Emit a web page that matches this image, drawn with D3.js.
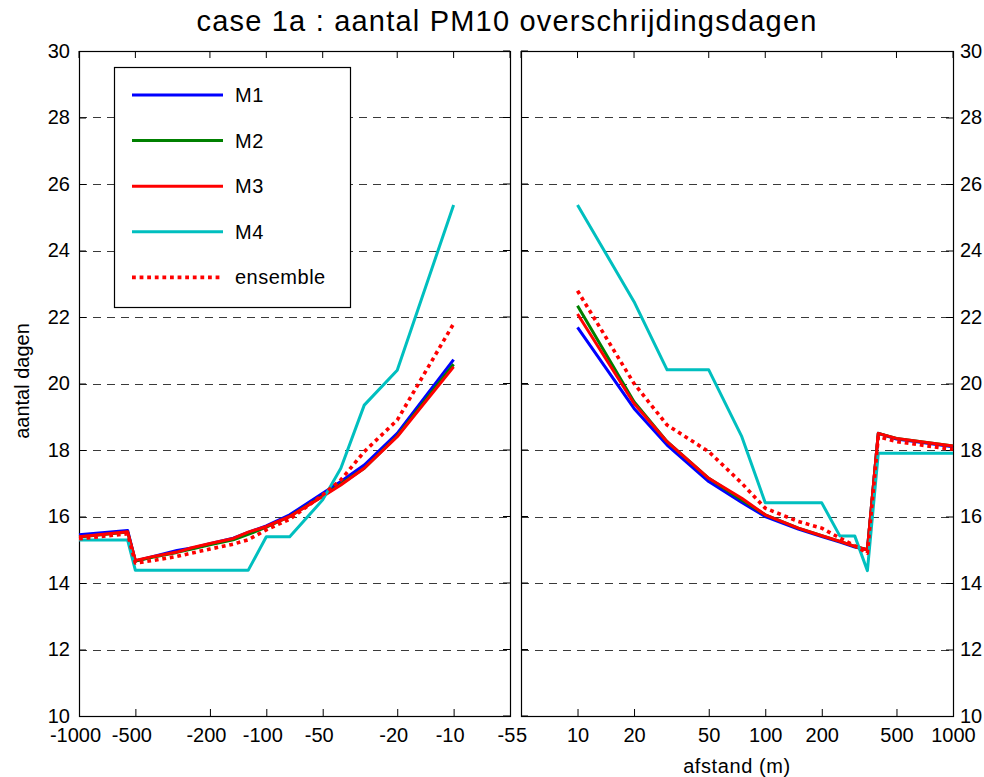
<!DOCTYPE html>
<html>
<head>
<meta charset="utf-8">
<script src="https://cdn.jsdelivr.net/npm/d3@7/dist/d3.min.js"></script>
<style>
  html, body { margin: 0; padding: 0; background: #fff; }
  svg { display: block; font-family: "Liberation Sans", Arial, sans-serif; }
</style>
</head>
<body>
<svg id="chart" width="984" height="777"></svg>
<script>
// Distances (m): negative = left of the road, positive = right of the road
const distLeft  = [-1000, -550, -500, -400, -300, -250, -200, -150, -125, -100, -75, -50, -40, -30, -20, -10];
const distRight = [10, 20, 30, 50, 75, 100, 150, 200, 250, 300, 350, 400, 500, 1000];

// Number of PM10 exceedance days per model, left side
const m1Left  = [15.45, 15.58, 14.66, 14.80, 14.98, 15.05, 15.18, 15.35, 15.52, 15.72, 16.05, 16.70, 17.05, 17.55, 18.50, 20.72];
const m2Left  = [15.38, 15.53, 14.66, 14.78, 14.92, 15.02, 15.15, 15.30, 15.46, 15.68, 16.00, 16.62, 16.98, 17.45, 18.42, 20.58];
const m3Left  = [15.39, 15.54, 14.68, 14.80, 14.93, 15.06, 15.19, 15.34, 15.53, 15.70, 16.00, 16.60, 16.95, 17.45, 18.40, 20.50];
const m4Left  = [15.29, 15.29, 14.38, 14.38, 14.38, 14.38, 14.38, 14.38, 14.38, 15.39, 15.39, 16.50, 17.45, 19.35, 20.40, 25.37];
const ensLeft = [15.33, 15.48, 14.60, 14.68, 14.80, 14.90, 15.02, 15.17, 15.30, 15.60, 15.92, 16.65, 17.10, 17.95, 18.90, 21.80];

// Right side
const m1Right  = [21.69, 19.25, 18.15, 17.05, 16.42, 16.00, 15.62, 15.40, 15.23, 15.08, 15.00, 18.50, 18.33, 18.10];
const m2Right  = [22.34, 19.45, 18.25, 17.15, 16.50, 16.05, 15.65, 15.42, 15.25, 15.10, 15.00, 18.50, 18.35, 18.12];
const m3Right  = [22.09, 19.40, 18.25, 17.15, 16.55, 16.05, 15.65, 15.42, 15.25, 15.10, 15.00, 18.50, 18.35, 18.12];
const m4Right  = [25.37, 22.46, 20.41, 20.41, 18.40, 16.41, 16.41, 16.41, 15.41, 15.41, 14.37, 17.90, 17.90, 17.90];
const ensRight = [22.79, 20.00, 18.75, 17.95, 17.00, 16.25, 15.85, 15.65, 15.35, 15.12, 14.90, 18.40, 18.25, 18.02];

const seriesNames = ["M1", "M2", "M3", "M4", "ensemble"];
const seriesColors = ["#0000ff", "#008000", "#ff0000", "#00bfbf", "#ff0000"];

const ticksLeft  = [-1000, -500, -200, -100, -50, -20, -10, -5];
const ticksRight = [5, 10, 20, 50, 100, 200, 500, 1000];
const ticksY     = [10, 12, 14, 16, 18, 20, 22, 24, 26, 28, 30];

const titleText = "case 1a : aantal PM10 overschrijdingsdagen";
const yLabel = "aantal dagen";
const xLabel = "afstand (m)";

const svg = d3.select("#chart");
const plotTop = 51, plotBottom = 716;
const y = d3.scaleLinear().domain([10, 30]).range([plotBottom, plotTop]);

const xL = d3.scaleLog().domain([-1000, -5]).range([79, 510]);
const xR = d3.scaleLog().domain([5, 1000]).range([521, 953]);

const fmt = d => String(d);
const tickLen = 7;

function drawPanel(x, ticks, side) {
  const [x0, x1] = x.range();
  const g = svg.append("g");

  // dashed grid
  g.append("g").selectAll("line").data(ticksY.filter(v => v > 10 && v < 30)).join("line")
    .attr("x1", x0).attr("x2", x1)
    .attr("y1", d => Math.round(y(d)) + 0.5).attr("y2", d => Math.round(y(d)) + 0.5)
    .attr("stroke", "#3a3a3a").attr("stroke-width", 1).attr("stroke-dasharray", "8,6");

  // bottom axis; negative labels sit slightly left so the digits centre on the tick
  const ax = g.append("g").attr("transform", `translate(0,${plotBottom})`)
    .call(d3.axisBottom(x).tickValues(ticks).tickFormat(fmt).tickSizeInner(-tickLen).tickSizeOuter(0).tickPadding(12));
  ax.select(".domain").remove();
  ax.selectAll("text").attr("font-size", 20).attr("fill", "#000")
    .attr("font-family", "Liberation Sans, Arial, sans-serif")
    .attr("dx", d => d < 0 ? -4 : 0);
  ax.selectAll("line").attr("stroke", "#000");

  // mirrored ticks on top edge
  g.append("g").selectAll("line").data(ticks).join("line")
    .attr("x1", d => x(d)).attr("x2", d => x(d))
    .attr("y1", plotTop).attr("y2", plotTop + tickLen).attr("stroke", "#000");

  // y axis with labels on the outer side, mirrored ticks inside on the other edge
  const yAxis = side === "left"
    ? d3.axisLeft(y).tickValues(ticksY).tickFormat(fmt).tickSizeInner(-tickLen).tickSizeOuter(0).tickPadding(9)
    : d3.axisRight(y).tickValues(ticksY).tickFormat(fmt).tickSizeInner(-tickLen).tickSizeOuter(0).tickPadding(7);
  const ay = g.append("g").attr("transform", `translate(${side === "left" ? x0 : x1},0)`).call(yAxis);
  ay.select(".domain").remove();
  ay.selectAll("text").attr("font-size", 20).attr("fill", "#000").attr("font-family", "Liberation Sans, Arial, sans-serif");
  ay.selectAll("line").attr("stroke", "#000");

  const otherX = side === "left" ? x1 : x0;
  const dir = side === "left" ? -1 : 1;
  g.append("g").selectAll("line").data(ticksY).join("line")
    .attr("x1", otherX).attr("x2", otherX + dir * tickLen)
    .attr("y1", d => y(d)).attr("y2", d => y(d)).attr("stroke", "#000");

  // frame
  g.append("rect").attr("x", x0 + 0.5).attr("y", plotTop + 0.5)
    .attr("width", x1 - x0).attr("height", plotBottom - plotTop)
    .attr("fill", "none").attr("stroke", "#000").attr("stroke-width", 1.2);
  return g;
}

drawPanel(xL, ticksLeft, "left");
drawPanel(xR, ticksRight, "right");

function drawLines(x, dist, seriesList) {
  const line = d3.line().x((d, i) => x(dist[i])).y(d => y(d));
  seriesList.forEach((vals, k) => {
    const p = svg.append("path").datum(vals)
      .attr("d", line).attr("fill", "none")
      .attr("stroke", seriesColors[k])
      .attr("stroke-width", k === 4 ? 3.6 : 3)
      .attr("stroke-linejoin", "round");
    if (k === 4) p.attr("stroke-dasharray", "3.8,3.8");
  });
}

drawLines(xL, distLeft, [m1Left, m2Left, m3Left, m4Left, ensLeft]);
drawLines(xR, distRight, [m1Right, m2Right, m3Right, m4Right, ensRight]);

// legend
const lg = svg.append("g");
lg.append("rect").attr("x", 114.5).attr("y", 67.5).attr("width", 236).attr("height", 240)
  .attr("fill", "#fff").attr("stroke", "#000").attr("stroke-width", 1.2);
seriesNames.forEach((name, k) => {
  const yy = 95 + k * 45.6;
  const l = lg.append("line").attr("x1", 132).attr("x2", 223).attr("y1", yy).attr("y2", yy)
    .attr("stroke", seriesColors[k]).attr("stroke-width", k === 4 ? 3.6 : 3);
  if (k === 4) l.attr("stroke-dasharray", "3.8,3.8");
  lg.append("text").attr("x", 235).attr("y", yy + 7).attr("font-size", 20)
    .attr("letter-spacing", 0.5).attr("fill", "#000").text(name);
});

// titles
svg.append("text").attr("x", 507).attr("y", 31).attr("text-anchor", "middle")
  .attr("font-size", 29).attr("letter-spacing", 1.2).attr("fill", "#000").text(titleText);
svg.append("text").attr("x", 737).attr("y", 773).attr("text-anchor", "middle")
  .attr("font-size", 20).attr("letter-spacing", 0.6).attr("fill", "#000").text(xLabel);
svg.append("text").attr("transform", "translate(29,381) rotate(-90)").attr("text-anchor", "middle")
  .attr("font-size", 20).attr("fill", "#000").text(yLabel);
</script>
</body>
</html>
